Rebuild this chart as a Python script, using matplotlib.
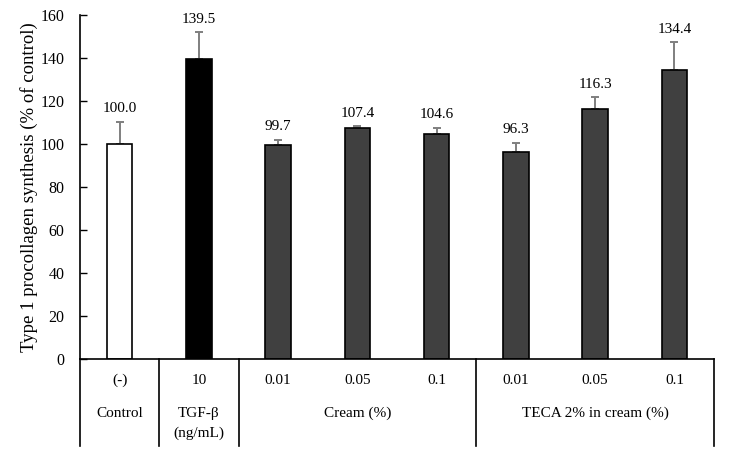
import matplotlib
matplotlib.use("Agg")
import matplotlib.pyplot as plt

plt.rcParams['font.family'] = ['Liberation Serif', 'DejaVu Serif']

doses = ["(-)", "10", "0.01", "0.05", "0.1", "0.01", "0.05", "0.1"]
values = [100.0, 139.5, 99.7, 107.4, 104.6, 96.3, 116.3, 134.4]
errors = [10.4, 12.6, 2.3, 0.8, 3.0, 4.3, 5.5, 12.9]
bar_colors = ["white", "black", "#404040", "#404040", "#404040", "#404040", "#404040", "#404040"]
groups = ["Control", "TGF-β\n(ng/mL)", "Cream (%)", "TECA 2% in cream (%)"]
group_centers = [0, 1, 3, 6]
separators = [-0.5, 0.5, 1.5, 4.5, 7.5]
yticks = [0, 20, 40, 60, 80, 100, 120, 140, 160]

fig = plt.figure(figsize=(7.30, 4.61), dpi=100)
ax = fig.add_axes([80/730, 1-359/461, (714-80)/730, (359-15)/461])

x = list(range(len(values)))
ax.bar(x, values, width=0.32, color=bar_colors, edgecolor="black", linewidth=1.2, zorder=2)
ax.errorbar(x, values, yerr=[[0]*len(errors), errors], fmt="none", ecolor="#7f7f7f",
            elinewidth=1.4, capsize=3.2, capthick=1.4, zorder=1)
for xi, v, e in zip(x, values, errors):
    ax.text(xi, v + e + 3, f"{v:.1f}", ha="center", va="bottom", fontsize=11)

ax.set_xlim(-0.5, 7.5)
ax.set_ylim(0, 160)
ax.set_yticks(yticks)
ax.tick_params(axis="y", direction="in", length=5, width=1, labelsize=11.5, pad=11)
ax.set_xticks([])
for s in ["top", "right"]:
    ax.spines[s].set_visible(False)
ax.spines["left"].set_bounds(0, 160)
ax.spines["left"].set_linewidth(1.2)
ax.spines["bottom"].set_linewidth(1.2)
ax.set_ylabel("Type 1 procollagen synthesis (% of control)", fontsize=13.5, labelpad=2)

tr = ax.get_xaxis_transform()
for sx in separators:
    ax.plot([sx, sx], [0, -0.253], transform=tr, color="black", linewidth=1.2, clip_on=False)
for xi, d in zip(x, doses):
    ax.text(xi, -0.063, d, transform=tr, ha="center", va="center", fontsize=11)
for gc, g in zip(group_centers, groups):
    lines = g.split("\n")
    for k, line in enumerate(lines):
        ax.text(gc, -0.157 - 0.06 * k, line, transform=tr, ha="center", va="center", fontsize=11)

fig.savefig("out.png", dpi=100)
